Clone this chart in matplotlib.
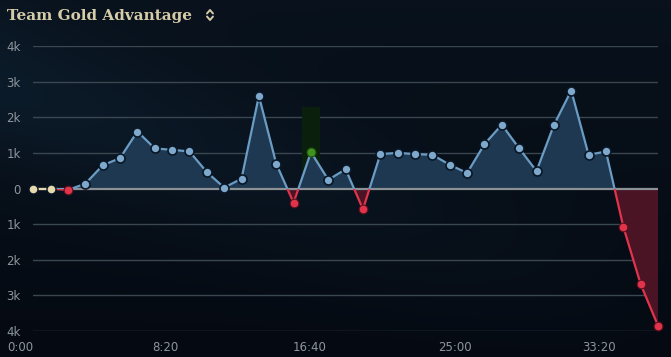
import matplotlib
matplotlib.use("Agg")
import matplotlib.pyplot as plt
import numpy as np
from matplotlib.patches import Rectangle
from matplotlib.lines import Line2D
from matplotlib.transforms import ScaledTranslation

# gold difference per minute frame (blue team perspective)
minutes = list(range(37))
gold_diff = [0, 0, -40, 135, 650, 855, 1600, 1125, 1085, 1040, 460, 25, 275,
             2600, 695, -400, 1020, 245, 540, -585, 965, 1000, 965, 945, 665,
             435, 1245, 1790, 1125, 490, 1780, 2750, 945, 1040, -1070, -2685, -3850]
highlight = 16  # hovered frame

ytick_vals = [4000, 3000, 2000, 1000, 0, -1000, -2000, -3000, -4000]
ytick_labels = ["4k", "3k", "2k", "1k", "0", "1k", "2k", "3k", "4k"]
xtick_secs = [0, 500, 1000, 1500, 2000]
xtick_labels = ["0:00", "8:20", "16:40", "25:00", "33:20"]

bg = "#07101a"
blue_line = "#6b9cc4"
blue_dot = "#7ea8cc"
blue_fill = "#1d3850"
red = "#e0344c"
red_fill = "#4a1425"
cream = "#e6d9ae"
green = "#3f9420"
txt = "#8d969c"
title_col = "#d6cca8"

fig = plt.figure(figsize=(6.71, 3.57), dpi=100, facecolor=bg)

# faint diagonal glow in the background
bgax = fig.add_axes([0, 0, 1, 1], zorder=-5)
gx, gy = np.meshgrid(np.linspace(0, 1, 200), np.linspace(0, 1, 120))
glow = np.exp(-((gy - 0.75 + 0.6 * gx) ** 2) / 0.05) * (1 - gx) * 0.6 + gy * 0.4
bgax.imshow(glow, cmap=matplotlib.colors.LinearSegmentedColormap.from_list(
    "bg", ["#050a12", "#0c1b29"]), aspect="auto", extent=[0, 1, 0, 1], origin="lower")
bgax.axis("off")

ax = fig.add_axes([33.3 / 671, 26 / 357, (658 - 33.3) / 671, (331 - 46) / 357])
ax.patch.set_alpha(0)
x = np.array(minutes)
y = np.array(gold_diff)

ax.set_xlim(0, 36)
ax.set_ylim(-4000, 4000)

for v in ytick_vals:
    if v != 0:
        ax.axhline(v, color="#3a4650", lw=1, zorder=1)
ax.axhline(0, color="#8c9196", lw=1.6, zorder=3)

# hover column
ax.add_patch(Rectangle((highlight - 0.5, 500), 1, 1800, color="#0a1f0c", lw=0, zorder=1.5))

ax.fill_between(x, y, 0, where=y >= 0, interpolate=True, color=blue_fill, lw=0, zorder=2)
ax.fill_between(x, y, 0, where=y <= 0, interpolate=True, color=red_fill, lw=0, zorder=2)

# line colored by sign via clipping
up = Rectangle((-1, 0), 40, 5000, transform=ax.transData)
dn = Rectangle((-1, -5000), 40, 5000, transform=ax.transData)
l1, = ax.plot(x[1:], y[1:], color=blue_line, lw=1.6, zorder=4)
l1.set_clip_path(up)
l2, = ax.plot(x[1:], y[1:], color=red, lw=1.6, zorder=4)
l2.set_clip_path(dn)
ax.plot(x[:2], y[:2], color=cream, lw=1.6, zorder=4)

for i, (xi, yi) in enumerate(zip(x, y)):
    if i == highlight:
        ax.plot(xi, yi, "o", ms=6.5, mfc=green, mec="#1f4a10", mew=0.8, zorder=6, clip_on=False)
    elif yi > 0:
        ax.plot(xi, yi, "o", ms=6.5, mfc=blue_dot, mec="#0a1726", mew=1.2, zorder=5, clip_on=False)
    elif yi < 0:
        ax.plot(xi, yi, "o", ms=6.3, mfc=red, mec="#5a0f1c", mew=0.8, zorder=5, clip_on=False)
    else:
        ax.plot(xi, yi, "o", ms=6.5, mfc=cream, mec="#0a1726", mew=1.0, zorder=5, clip_on=False)

ax.set_yticks(ytick_vals)
ax.set_yticklabels(ytick_labels)
ax.set_xticks([s / 60 for s in xtick_secs])
ax.set_xticklabels(xtick_labels)
ax.tick_params(axis="both", length=0, colors=txt, labelsize=8.5)
ax.tick_params(axis="y", pad=9)
ax.tick_params(axis="x", pad=7)
shift = ScaledTranslation(-12.6 / 100, 0, fig.dpi_scale_trans)
for lab in ax.get_xticklabels():
    lab.set_transform(lab.get_transform() + shift)
for s in ax.spines.values():
    s.set_visible(False)

fig.text(7 / 671, 1 - 16 / 357, "Team Gold Advantage", color=title_col,
         fontsize=11, fontweight="bold", family="DejaVu Serif", va="center", ha="left")
# sort chevrons next to the title
W, H = 671, 357
for pts in ([(207, 13.5), (210, 10), (213, 13.5)], [(207, 16.5), (210, 20), (213, 16.5)]):
    fig.add_artist(Line2D([p[0] / W for p in pts], [1 - p[1] / H for p in pts],
                          color=title_col, lw=1.4, solid_capstyle="round",
                          solid_joinstyle="round", transform=fig.transFigure))

fig.savefig("out.png", dpi=100, facecolor=bg)
